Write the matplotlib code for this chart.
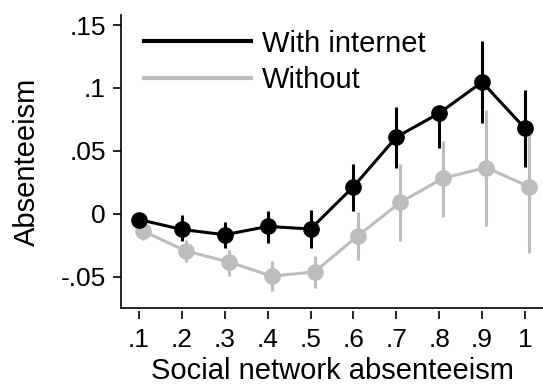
import matplotlib
matplotlib.use("Agg")
import matplotlib.pyplot as plt
import numpy as np

plt.rcParams['font.family'] = ['Liberation Sans', 'DejaVu Sans']

# data
x = [0.1, 0.2, 0.3, 0.4, 0.5, 0.6, 0.7, 0.8, 0.9, 1.0]
x_labels = ['.1', '.2', '.3', '.4', '.5', '.6', '.7', '.8', '.9', '1']
y_ticks = [-0.05, 0, 0.05, 0.1, 0.15]
y_labels = ['-.05', '0', '.05', '.1', '.15']

with_mean = [-0.0045, -0.0124, -0.0166, -0.010, -0.012, 0.0216, 0.061, 0.080, 0.1047, 0.0679]
with_lo = [-0.007, -0.0216, -0.0268, -0.0229, -0.0268, 0.0026, 0.0363, 0.0526, 0.0723, 0.0373]
with_hi = [-0.002, -0.0013, -0.0066, 0.002, 0.003, 0.040, 0.0847, 0.083, 0.1374, 0.0987]

without_mean = [-0.0137, -0.0295, -0.0382, -0.0495, -0.0461, -0.0177, 0.0092, 0.0284, 0.0368, 0.0216]
without_lo = [-0.0205, -0.0382, -0.0495, -0.0611, -0.0592, -0.0369, -0.0216, -0.0021, -0.010, -0.0311]
without_hi = [-0.0092, -0.021, -0.029, -0.0374, -0.0337, 0.0013, 0.0395, 0.0579, 0.0829, 0.0632]

black = '#000000'
gray = '#bdbdbd'

fig = plt.figure(figsize=(5.43, 3.87), dpi=100)
ax = fig.add_axes([121 / 543, 1 - 308 / 387, 1 - 121 / 543, (308 - 15) / 387])

# grey series is shifted a little to the right
xg = np.array(x) + 0.0095
ax.vlines(xg, without_lo, without_hi, color=gray, lw=2.2, zorder=1)
ax.plot(xg, without_mean, color=gray, lw=2.2, marker='o', ms=11, zorder=2, label='Without')

ax.vlines(x, with_lo, with_hi, color=black, lw=2.2, zorder=3)
ax.plot(x, with_mean, color=black, lw=2.2, marker='o', ms=11, zorder=4, label='With internet')

ax.set_xlim(0.058, 1.042)
ax.set_ylim(-0.0748, 0.158)

ax.set_xticks(x)
ax.set_xticklabels(x_labels)
ax.set_yticks(y_ticks)
ax.set_yticklabels(y_labels)
ax.tick_params(axis='both', labelsize=19, width=1.2, length=6, color='k')
ax.tick_params(axis='y', pad=5)
ax.tick_params(axis='x', pad=6)

for s in ['top', 'right']:
    ax.spines[s].set_visible(False)
ax.spines['left'].set_linewidth(1.2)
# x ticks hang a little below the axis line
ax.spines['bottom'].set_position(('outward', 2.5))
ax.spines['bottom'].set_visible(False)
ax.plot([0, 1], [0, 0], transform=ax.transAxes, color='k', lw=1.2, clip_on=False)

ax.set_xlabel('Social network absenteeism', fontsize=21)
ax.set_ylabel('Absenteeism', fontsize=21)
ax.yaxis.set_label_coords(-0.19, 0.5)
ax.xaxis.set_label_coords(0.5, -0.168)

h, l = ax.get_legend_handles_labels()
leg = ax.legend(h[::-1], l[::-1], loc='upper left', bbox_to_anchor=(0.055, 0.95),
                frameon=False, fontsize=21, handlelength=3.65, handletextpad=0.4,
                labelspacing=0.3, borderpad=0, borderaxespad=0)
for line in leg.get_lines():
    line.set_marker('')
    line.set_linewidth(3)

fig.savefig('out.png', dpi=100)
